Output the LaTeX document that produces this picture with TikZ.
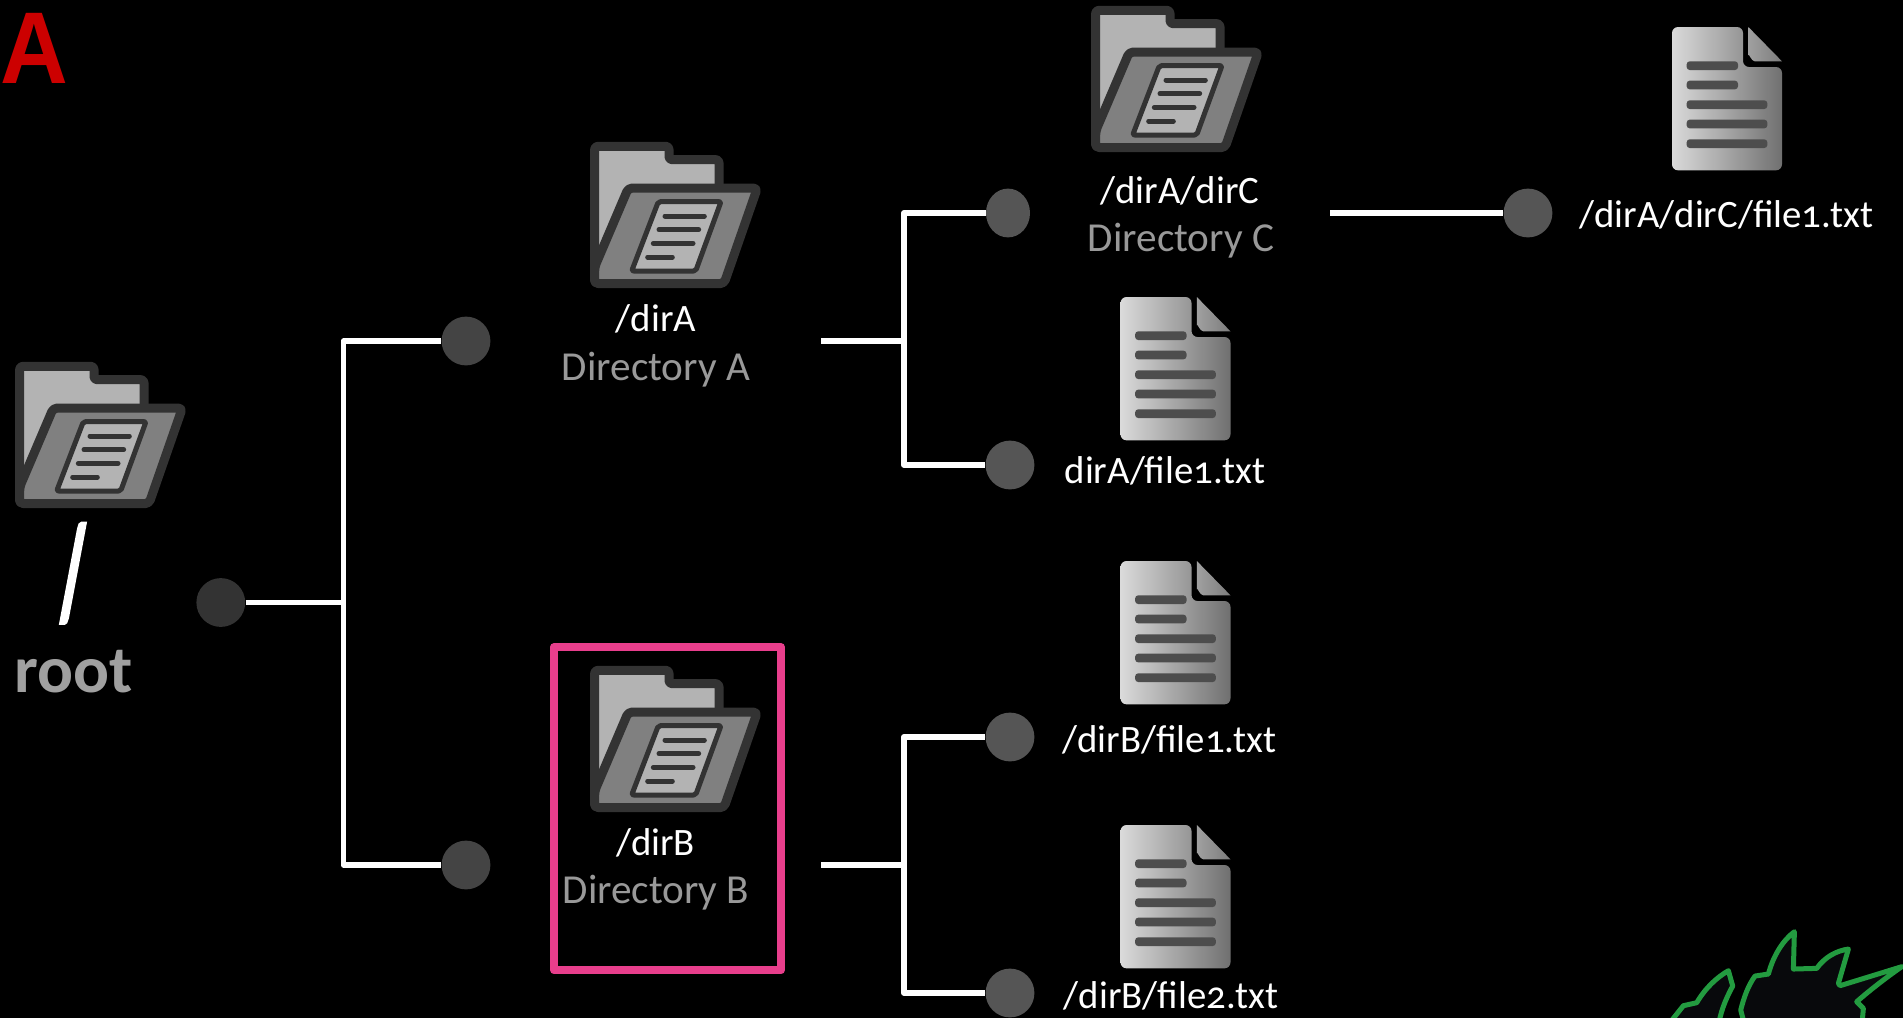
\documentclass[tikz,border=0pt]{standalone}
\usepackage{fontspec}
\usetikzlibrary{shapes.geometric}
\setmainfont[Numbers=OldStyle]{Carlito}
\newfontfamily\boldsans{Liberation Sans}
\newfontfamily\slashfont[FakeBold=9]{Carlito}
\definecolor{fdark}{HTML}{333333}
\definecolor{flight}{HTML}{B3B3B3}
\definecolor{fmid}{HTML}{808080}
\definecolor{dotroot}{HTML}{333333}
\definecolor{dotmid}{HTML}{444444}
\definecolor{dotc}{HTML}{555555}
\definecolor{subc}{HTML}{999999}
\definecolor{rootc}{HTML}{A0A0A0}
\definecolor{boxc}{HTML}{E83E8C}
\definecolor{leafg}{HTML}{239B40}
\definecolor{leafk}{HTML}{08090C}
\definecolor{redA}{HTML}{CC0000}
\definecolor{fileL}{HTML}{DADADA}
\definecolor{fileR}{HTML}{707070}
\definecolor{foldL}{HTML}{A0A0A0}
\definecolor{foldR}{HTML}{7C7C7C}
\definecolor{filebar}{HTML}{4D4D4D}
\tikzset{
  x=0.5pt,y=-0.5pt,
  conn/.style={draw=white,line width=2.8pt,line join=round},
  dot/.style={circle,fill=dotc,minimum size=24.4pt,inner sep=0pt},
  lab/.style={text=white,font=\fontsize{19.4}{21}\selectfont,inner sep=0pt,anchor=base},
  sublab/.style={text=subc,font=\fontsize{20.6}{22}\selectfont,inner sep=0pt,anchor=base},
  flin/.style={line width=2.5pt,draw=fdark,line cap=round},
  folder/.pic={
    \begin{scope}[x=0.16667pt,y=-0.16667pt,shift={(-45,-65)}]
    \filldraw[fill=flight,draw=fdark,line width=4.5pt,line join=round,rounded corners=1.5pt]
      (59,78)--(282,78)--(282,118)--(432,118)--(432,300)--(59,490)--cycle;
    \filldraw[fill=fmid,draw=fdark,line width=4.5pt,line join=round,rounded corners=2pt]
      (547,203)--(447,490)--(59,490)--(59,440)--(160,203)--cycle;
    \filldraw[fill=flight,draw=fdark,line width=2.5pt,line join=round,rounded corners=1pt]
      (250,244)--(438,244)--(362,452)--(170,452)--cycle;
    \draw[flin] (270,287)--(388,287);
    \draw[flin] (252,328)--(371,328);
    \draw[flin] (235,369)--(354,369);
    \draw[flin] (218,410)--(292,410);
    \end{scope}
  },
  filedoc/.pic={
    \begin{scope}[x=0.16667pt,y=-0.16667pt,shift={(-97,-80)}]
    \shade[left color=fileL,right color=fileR,rounded corners=3pt]
      (97,80)--(310,80)--(310,200)--(427,200)--(427,510)--(97,510)--cycle;
    \shade[left color=foldL,right color=foldR]
      (326,80)--(427,183)--(345,183) to[out=180,in=90] (326,165)--cycle;
    \foreach \yy/\xe in {196/295,254/295,313/383,371/383,430/383}
      \fill[filebar,rounded corners=1.5pt] (141,\yy-13)rectangle(\xe,\yy+13);
    \end{scope}
  }
}
\begin{document}
\begin{tikzpicture}
\fill[black] (0,0) rectangle (1903,1018);
\useasboundingbox (0,0) rectangle (1903,1018);
\node[text=redA,inner sep=0pt,anchor=base west,font=\fontsize{51}{51}\boldsans\bfseries] (title) at (0,83.5) {\scalebox{.92}[1]{A}};
% icons
\pic at (15,362) {folder};
\pic at (590,142) {folder};
\pic at (590,666) {folder};
\pic at (1091,6) {folder};
\pic at (1672,27) {filedoc};
\pic at (1120.5,297) {filedoc};
\pic at (1120.5,561) {filedoc};
\pic at (1120.5,825) {filedoc};
% labels
\node[lab,font=\fontsize{48}{48}\slashfont] (slash) at (73,614) {\scalebox{.55}[1.3]{/}};
\node[text=rootc,inner sep=0pt,anchor=base,font=\fontsize{33.5}{34}\selectfont\bfseries] (root) at (73.8,692) {root};
\node[lab] (la) at (656,331.5) {/dirA};
\node[sublab] (sa) at (656,380) {Directory A};
\node[lab] (lb) at (655.5,855) {/dirB};
\node[sublab] (sb) at (656,903) {Directory B};
\node[lab] (lc) at (1180,203.5) {/dirA/dirC};
\node[sublab] (sc) at (1181,251.5) {Directory C};
\node[lab] (lcf) at (1726.5,227.5) {/dirA/dirC/file1.txt};
\node[lab] (laf) at (1165,483) {dirA/file1.txt};
\node[lab] (lbf) at (1169.6,752) {/dirB/file1.txt};
\node[lab] (lbg) at (1171,1008) {/dirB/file2.txt};
% dots
\node[dot,fill=dotroot] (d0) at (220.8,602.5) {};
\node[dot,fill=dotmid] (d1) at (466,341) {};
\node[dot,fill=dotmid] (d2) at (466,865) {};
\node[ellipse,fill=dotc,minimum width=22pt,minimum height=24.4pt,inner sep=0pt] (d3) at (1008,213) {};
\node[dot] (d4) at (1010,465) {};
\node[dot] (d5) at (1010,737) {};
\node[dot] (d6) at (1010,993) {};
\node[dot] (d7) at (1528,213) {};
% branch points
\coordinate (j0) at (343.5,602.5);
\coordinate (c1) at (343.5,341);
\coordinate (c2) at (343.5,865);
\coordinate (s1) at (821,341);
\coordinate (j1) at (903.8,341);
\coordinate (c3) at (903.8,213);
\coordinate (c4) at (903.8,465);
\coordinate (s2) at (821,865);
\coordinate (j2) at (903.8,865);
\coordinate (c5) at (903.8,737);
\coordinate (c6) at (903.8,993);
\coordinate (s3) at (1330,213);
\draw[conn] (d0)--(j0);
\draw[conn] (d1)--(c1)--(c2)--(d2);
\draw[conn] (s1)--(j1);
\draw[conn] (d3)--(c3)--(c4)--(d4);
\draw[conn] (s2)--(j2);
\draw[conn] (d5)--(c5)--(c6)--(d6);
\draw[conn] (s3)--(d7);
\node[rectangle,draw=boxc,line width=4pt,line join=round,minimum width=113.5pt,minimum height=161.5pt,inner sep=0pt] (hl) at (667.5,808.7) {};
% leaf
\begin{scope}
\clip (0,0) rectangle (1903,1018);
\begin{scope}[x=0.16667pt,y=-0.16667pt,shift={(4920,2700)}]
\filldraw[fill=leafk,draw=leafg,line width=2.5pt,line join=round]
  (80,380)--(130,317)--(170,308) .. controls (195,265) and (230,232) .. (265,212)
  --(278,258) .. controls (255,300) and (240,340) .. (235,380)--cycle;
\filldraw[fill=leafk,draw=leafg,line width=2.5pt,line join=round]
  (315,380)--(302,330) .. controls (312,290) and (325,255) .. (345,228)
  --(385,222) .. controls (400,165) and (430,120) .. (463,95)
  --(460,207)--(530,205) .. controls (555,170) and (590,152) .. (625,147)
  --(595,250)--(600,257)--(785,200) .. controls (735,235) and (690,270) .. (650,305)
  --(670,325)--(665,380)--cycle;
\end{scope}
\end{scope}
\end{tikzpicture}
\end{document}
